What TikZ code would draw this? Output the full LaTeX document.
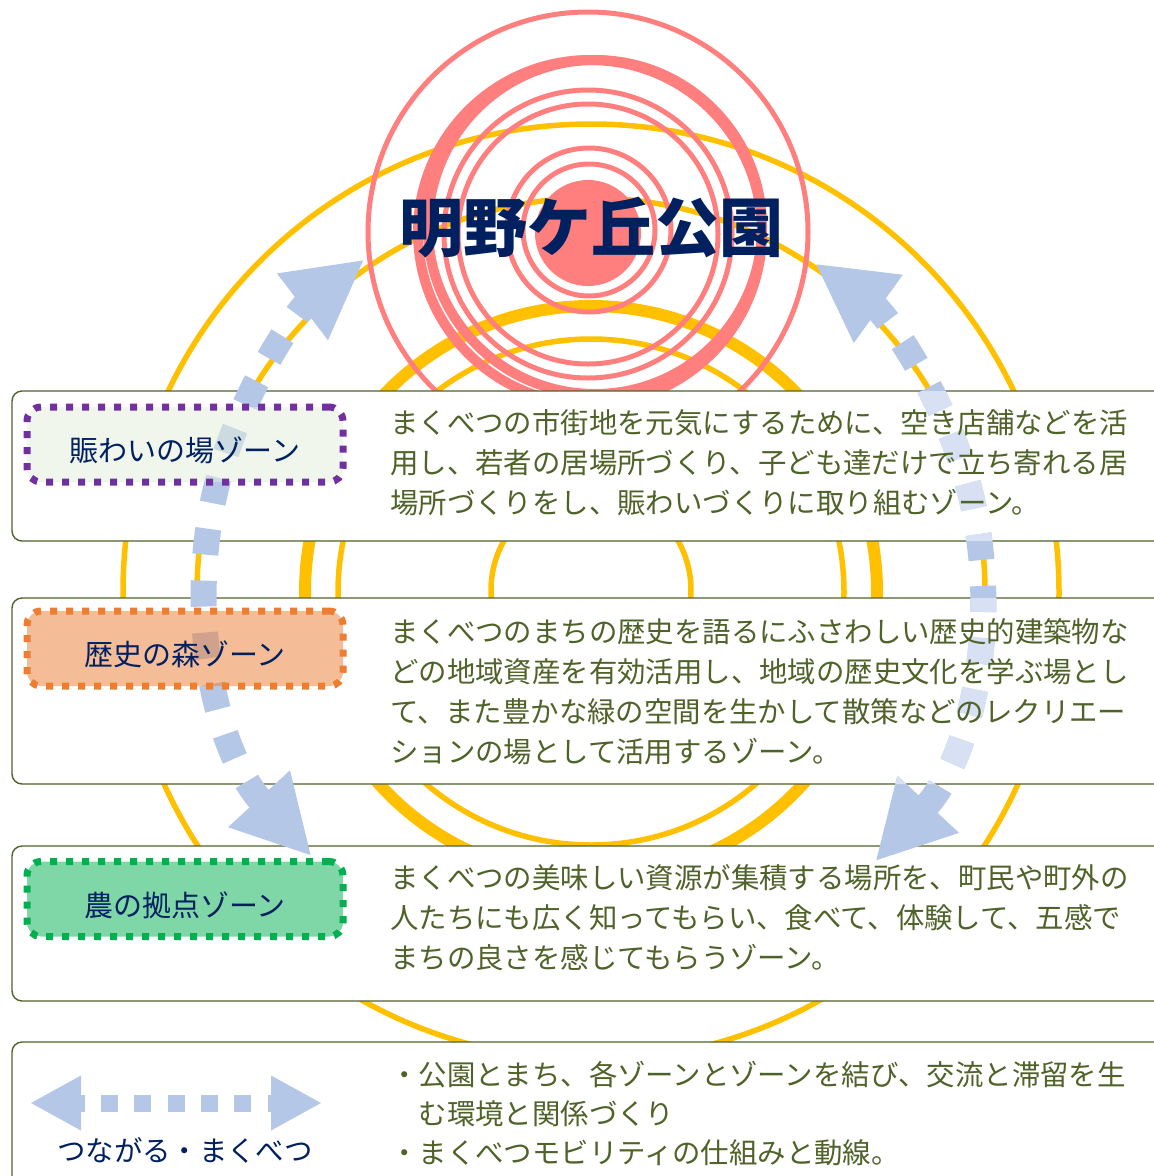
\documentclass[tikz,border=0pt]{standalone}
\usepackage{fontspec}
\newfontfamily\jpfont{Noto Sans CJK JP}
\usetikzlibrary{arrows.meta}

\definecolor{ringyellow}{HTML}{FFC000}
\definecolor{ringred}{HTML}{FF7F7F}
\definecolor{titlenavy}{HTML}{002060}
\definecolor{textolive}{HTML}{4F6228}
\definecolor{linkblue}{HTML}{B4C7E7}
\definecolor{linkpale}{HTML}{D7E1F3}
\definecolor{zonepurple}{HTML}{7030A0}
\definecolor{zoneorange}{HTML}{ED7D31}
\definecolor{zonegreen}{HTML}{00B050}
\definecolor{zonemint}{HTML}{E2EFD9}

\tikzset{
  yring/.style={draw=ringyellow, line width=5.5pt},
  rring/.style={draw=ringred, line width=5pt},
  panel/.style={draw=textolive, line width=1.4pt, fill=white, rounded corners=10pt},
  zonebox/.style={line width=7pt, dash pattern=on 7pt off 9pt, rounded corners=14pt,
    fill opacity=0.5, minimum width=316pt, minimum height=75pt, inner sep=0pt},
  zonetext/.style={font=\jpfont\fontsize{29}{34}\selectfont, text=titlenavy, inner sep=0pt},
  desctext/.style={font=\jpfont\fontsize{28.4}{40}\selectfont, text=textolive,
    align=left, inner sep=0pt, anchor=north west},
  linkarrow/.style={draw=linkblue, line width=26pt, dash pattern=on 26pt off 26pt, <->}
}

\begin{document}
\begin{tikzpicture}[x=1pt, y=-1pt, >={Triangle[length=0pt 3, width=0pt 3]}]
\useasboundingbox (0,0) rectangle (1154,1176);
\clip (0,0) rectangle (1154,1176);

% Yellow rings round the park
\coordinate (yc) at (591,592);
\draw[yring] (yc) circle (468);
\draw[yring] (yc) circle (394);
\draw[yring, line width=12pt] (yc) circle (286);
\draw[yring] (yc) circle (253);
\draw[yring] (591,590) circle (100);

% Red rings of the park
\coordinate (rc) at (588,232);
\draw[rring] (rc) circle (220);
\draw[rring, line width=10pt] (590,232) circle (172);
\draw[rring, line width=10pt] (595,227) circle (167);
\draw[rring] (588,234) circle (144);
\draw[rring] (588,234) circle (130);
\draw[rring] (589,230) circle (82);
\draw[rring] (589,230) circle (66);
\fill[ringred] (588,233) circle (53);
\node[font=\jpfont\bfseries\fontsize{64}{70}\selectfont, text=titlenavy] (park) at (591,228) {明野ケ丘公園};

% Panels
\draw[panel] (12,391) rectangle (1180,541);
\draw[panel] (12,598) rectangle (1180,784);
\draw[panel] (12,846) rectangle (1180,1001);
\draw[panel] (12,1042) rectangle (1180,1200);

% Links
\coordinate (lc) at (611,582);
\coordinate (rgc) at (581,589);
\draw[linkarrow] ([shift={(42.8:401)}]rgc) arc[start angle=42.8, end angle=-54.3, radius=401];
\begin{scope}
\clip (12,391) rectangle (1154,541) (12,598) rectangle (1154,784);
\draw[linkarrow, draw=linkpale] ([shift={(42.8:401)}]rgc) arc[start angle=42.8, end angle=-54.3, radius=401];
\end{scope}
\draw[linkarrow] ([shift={(-222.5:406)}]lc) arc[start angle=-222.5, end angle=-127.4, radius=406];

% Zones
\node[zonebox, draw=zonepurple, fill=zonemint] (nigiwaibox) at (185,444.5) {};
\node[zonebox, draw=zoneorange, fill=zoneorange] (rekishibox) at (185,648.5) {};
\node[zonebox, draw=zonegreen, fill=zonegreen] (noubox) at (185,899) {};
\node[zonetext] (nigiwai) at ([yshift=-6pt]nigiwaibox.center) {賑わいの場ゾーン};
\node[zonetext] (rekishi) at ([yshift=-6pt]rekishibox.center) {歴史の森ゾーン};
\node[zonetext] (nou) at ([yshift=-6pt]noubox.center) {農の拠点ゾーン};

\node[desctext] (nigiwaidesc) at (390,409) {まくべつの市街地を元気にするために、空き店舗などを活\\用し、若者の居場所づくり、子ども達だけで立ち寄れる居\\場所づくりをし、賑わいづくりに取り組むゾーン。};
\node[desctext] (rekishidesc) at (390,618) {まくべつのまちの歴史を語るにふさわしい歴史的建築物な\\どの地域資産を有効活用し、地域の歴史文化を学ぶ場とし\\て、また豊かな緑の空間を生かして散策などのレクリエー\\ションの場として活用するゾーン。};
\node[desctext] (noudesc) at (390,864) {まくべつの美味しい資源が集積する場所を、町民や町外の\\人たちにも広く知ってもらい、食べて、体験して、五感で\\まちの良さを感じてもらうゾーン。};

% Legend
\coordinate (legl) at (30,1103);
\coordinate (legr) at (322,1103);
\draw[linkarrow, line width=17pt, dash pattern=on 17pt off 16.3pt, dash phase=10pt] (legl) -- (legr);
\node[zonetext, font=\jpfont\fontsize{28.4}{34}\selectfont] (tsunagaru) at (185,1150) {つながる・まくべつ};
\node[desctext, font=\jpfont\fontsize{28.4}{39}\selectfont] (linkdesc) at (390,1061) {・公園とまち、各ゾーンとゾーンを結び、交流と滞留を生\\　む環境と関係づくり\\・まくべつモビリティの仕組みと動線。};
\end{tikzpicture}
\end{document}
